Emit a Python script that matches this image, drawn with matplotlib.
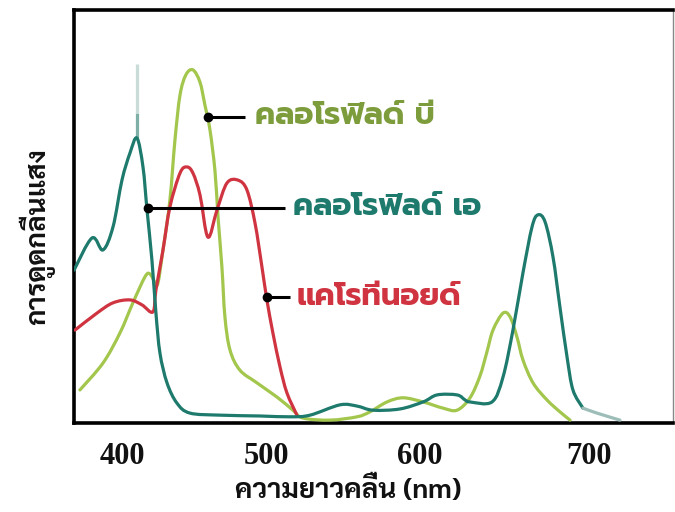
import numpy as np
import matplotlib
matplotlib.use("Agg")
import matplotlib.pyplot as plt
from matplotlib import font_manager, ft2font
from matplotlib.path import Path
from matplotlib.patches import PathPatch

# ---------------- data (wavelength nm, relative absorbance 0-100) ----------------
chla_nm = [366.7, 379.2, 386.8, 393.8, 400.0, 405.6, 410.4, 414.6, 417.4, 420.8, 423.6,
           426.4, 431.3, 438.2, 447.2, 468.1, 495.8, 515.6, 528.6, 548.1, 559.1, 569.5,
           587.0, 601.8, 610.1, 621.9, 626.6, 629.6, 642.6, 649.1, 655.0, 660.9, 666.3,
           669.8, 674.0, 678.7, 682.8, 687.0, 690.5, 696.4]
chla_val = [37.0, 44.8, 41.9, 47.5, 58.8, 65.4, 69.0, 62.0, 51.6, 39.5, 26.6,
            16.9, 9.7, 4.8, 2.4, 1.9, 1.7, 1.5, 1.9, 4.4, 4.1, 3.1,
            3.4, 5.1, 6.8, 6.8, 5.6, 5.1, 5.1, 11.1, 22.5, 36.3, 47.5,
            50.4, 48.7, 40.2, 28.1, 16.0, 8.0, 3.6]
chla_tail_nm = [696.4, 704.7, 718.3]
chla_tail_val = [3.6, 2.4, 0.7]
chla_spike_val = [69.0, 75.0, 87.0]

chlb_nm = [370.8, 386.8, 398.6, 407.6, 416.0, 419.4, 422.9, 425.0, 428.5, 433.3, 436.8,
           440.3, 444.4, 449.3, 454.2, 457.6, 461.1, 464.6, 466.7, 469.4, 471.5, 475.0,
           481.9, 493.8, 507.1, 517.5, 524.0, 541.6, 559.1, 567.5, 578.6, 589.0, 601.8,
           613.6, 621.9, 629.6, 635.5, 639.6, 643.2, 649.1, 653.3, 657.4, 660.9, 666.9,
           675.1, 682.8, 688.8]
chlb_val = [8.0, 14.5, 21.8, 29.1, 35.4, 36.1, 34.1, 33.9, 41.9, 54.0, 68.5,
            79.4, 84.3, 85.5, 82.5, 77.0, 71.0, 61.0, 49.9, 37.8, 25.7, 17.7,
            12.8, 9.7, 6.3, 3.1, 1.2, 0.7, 1.5, 2.7, 5.1, 6.1, 5.1,
            3.6, 3.1, 6.1, 11.4, 17.2, 22.5, 26.6, 25.7, 20.8, 15.3, 9.7,
            5.6, 2.7, 0.7]

car_nm = [367.4, 382.6, 393.8, 405.6, 413.9, 421.5, 423.6, 428.5, 433.3, 440.3, 445.1,
          449.3, 454.2, 459.7, 466.0, 472.9, 480.6, 486.8, 492.4, 497.2, 500.6, 504.5,
          509.1, 513.6, 520.1]
car_val = [22.5, 26.6, 29.1, 29.8, 28.6, 26.9, 32.2, 41.9, 52.3, 60.5, 62.0,
           60.5, 55.2, 45.0, 51.6, 58.1, 58.8, 56.4, 48.4, 37.8, 29.8, 21.8,
           13.6, 7.3, 1.9]

labels = ["คลอโรฟิลด์ บี", "คลอโรฟิลด์ เอ", "แคโรทีนอยด์"]
leader_dot_nm = [459.7, 418.1, 500.6]
leader_dot_val = [74.1, 52.1, 30.5]
leader_end_nm = [485.4, 512.3, 515.6]
leader_text_nm = [492.4, 517.5, 520.1]

xticks = [400, 500, 600, 700]
xlabel = "ความยาวคลื่น (nm)"
ylabel = "การดูดกลืนแสง"

# ---------------- fonts ----------------
def has_thai(path):
    try:
        f = ft2font.FT2Font(path)
        cm = f.get_charmap()
        return 0x0E04 in cm and 0x0E25 in cm
    except Exception:
        return False

thai_fams = []
for fe in font_manager.fontManager.ttflist:
    if fe.name not in thai_fams and has_thai(fe.fname):
        thai_fams.append(fe.name)

def pick(prefs):
    for p in prefs:
        if p in thai_fams:
            return p
    return thai_fams[0] if thai_fams else "DejaVu Sans"

label_font = pick(["Prompt", "Kanit", "Noto Sans Thai", "Sarabun"])
axis_font = pick(["Sarabun", "Taviraj", "Noto Serif Thai", "Noto Sans Thai"])
plt.rcParams['font.family'] = [axis_font, 'DejaVu Sans']

# ---------------- colours ----------------
c_a = "#1d7a6c"
c_a_tail = "#9dbdb8"
c_b = "#a3c64c"
c_b_txt = "#7d9c3c"
c_car = "#cf3440"

# ---------------- nonlinear x scale (matches the drawing's tick spacing) ----------------
def fwd(x):
    x = np.asarray(x, float)
    return np.where(x < 500, 122 + (x - 400) * 1.44,
                    np.where(x < 600, 266 + (x - 500) * 1.54, 420 + (x - 600) * 1.69))

def inv(p):
    p = np.asarray(p, float)
    return np.where(p < 266, 400 + (p - 122) / 1.44,
                    np.where(p < 420, 500 + (p - 266) / 1.54, 600 + (p - 420) / 1.69))

def smooth_path(xs, ys):
    P = np.column_stack([xs, ys]).astype(float)
    n = len(P)
    verts = [P[0]]
    codes = [Path.MOVETO]
    for i in range(n - 1):
        p0 = P[i - 1] if i > 0 else P[i]
        p1, p2 = P[i], P[i + 1]
        p3 = P[i + 2] if i + 2 < n else P[i + 1]
        verts += [p1 + (p2 - p0) / 6.0, p2 - (p3 - p1) / 6.0, p2]
        codes += [Path.CURVE4] * 3
    return Path(np.array(verts), codes)

fig = plt.figure(figsize=(6.75, 5.12), dpi=100)
ax = fig.add_axes([74 / 675, 89 / 512, 599 / 675, 413 / 512])
ax.set_xscale('function', functions=(fwd, inv))
ax.set_xlim(366.7, 749.7)
ax.set_ylim(0, 100)

lw = 2.3
def draw(xs, ys, color, z):
    ax.add_patch(PathPatch(smooth_path(xs, ys), fill=False, edgecolor=color, lw=lw,
                           capstyle='round', joinstyle='round', zorder=z))

draw(chlb_nm, chlb_val, c_b, 3)
draw(car_nm, car_val, c_car, 4)
draw(chla_nm, chla_val, c_a, 5)
draw(chla_tail_nm, chla_tail_val, c_a_tail, 5)
pk = int(np.argmax(chla_val))
ax.plot([chla_nm[pk]] * 2, chla_spike_val[:2], color="#7fb0a8", lw=lw, zorder=4,
        solid_capstyle='butt')
ax.plot([chla_nm[pk]] * 2, chla_spike_val[1:], color="#c9dcd8", lw=lw, zorder=4,
        solid_capstyle='butt')

txt_colors = [c_b_txt, c_a, c_car]
for i in range(3):
    ax.plot([leader_dot_nm[i], leader_end_nm[i]], [leader_dot_val[i]] * 2,
            color='black', lw=2.2, zorder=6, solid_capstyle='butt')
    ax.plot([leader_dot_nm[i]], [leader_dot_val[i]], 'o', color='black', ms=6, zorder=7)
    ax.text(leader_text_nm[i], leader_dot_val[i], labels[i], color=txt_colors[i],
            fontsize=22, fontweight='bold', va='center', ha='left', zorder=8,
            family=[label_font, 'DejaVu Sans'])

ax.set_xticks(xticks)
ax.set_xticklabels([str(t) for t in xticks], fontfamily='Liberation Serif',
                   fontweight='bold', fontsize=22, color='#111111')
ax.minorticks_off()
ax.set_yticks([])
ax.tick_params(axis='x', length=0, pad=14)
for s in ['left', 'bottom', 'top']:
    ax.spines[s].set_linewidth(2.6)
    ax.spines[s].set_color('black')
ax.spines['right'].set_linewidth(1.0)
ax.spines['right'].set_color('#888888')

fig.text(348 / 675, 22 / 512, xlabel, ha='center', va='center', fontsize=20,
         fontweight='bold', color='#111111')
fig.text(37 / 675, 275 / 512, ylabel, ha='center', va='center', fontsize=20,
         fontweight='bold', rotation=90, color='#111111')

fig.savefig("out.png", dpi=100)
